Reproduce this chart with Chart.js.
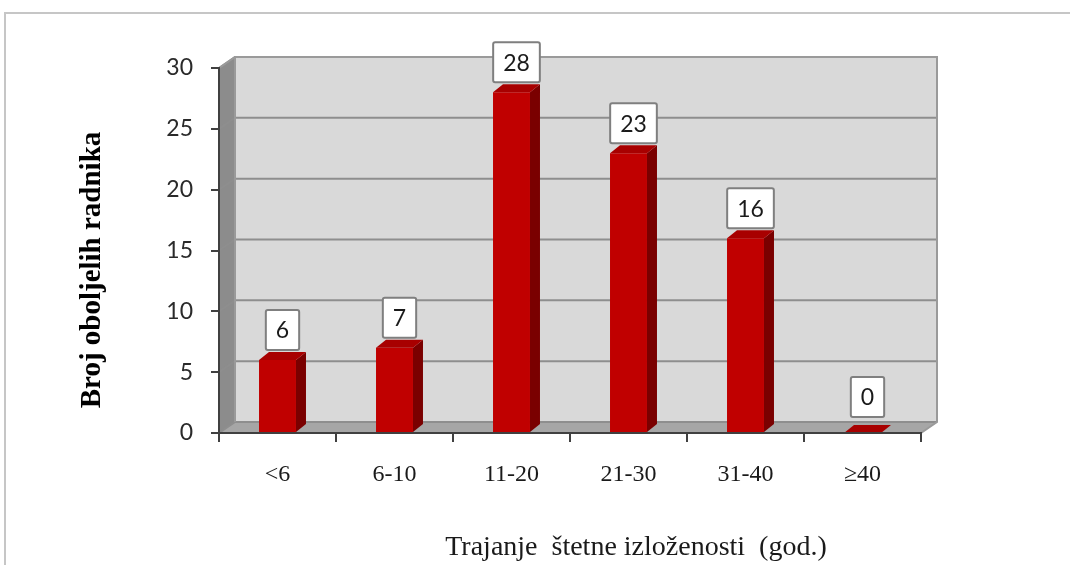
<!DOCTYPE html>
<html>
<head>
<meta charset="utf-8">
<script src="https://cdn.jsdelivr.net/npm/chart.js@4.4.0/dist/chart.umd.min.js"></script>
<style>
	html, body { margin: 0; padding: 0; background: #fff; }
	#wrap { position: relative; width: 1070px; height: 565px; overflow: hidden; }
	#wrap canvas { position: absolute; left: 0; top: 0; }
	/* okvir oko grafikona (Excel chart area) */
	#frame { position: absolute; left: 4px; top: 12px; width: 1100px; height: 600px; box-sizing: border-box;
		border-top: 2px solid #c6c6c6; border-left: 2px solid #c6c6c6; pointer-events: none; }
</style>
</head>
<body>
<div id="wrap">
	<canvas id="chart" width="1070" height="565"></canvas>
	<div id="frame"></div>
</div>
<script>
// podaci
const categories = ['<6', '6-10', '11-20', '21-30', '31-40', '\u226540'];
const workerCounts = [6, 7, 28, 23, 16, 0];
const yMin = 0;
const yMax = 30;
const yStep = 5;
const yTitle = 'Broj oboljelih radnika';
const xTitle = 'Trajanje  \u0161tetne izlo\u017eenosti  (god.)';

// 3D pomaci (zid i stupci)
const WALL_DX = 16, WALL_DY = -11;
const BAR_DX = 10, BAR_DY = -8;

const SANS = 'Lato, "Liberation Sans", sans-serif';
const SERIF = '"Liberation Serif", "Times New Roman", serif';

const threeD = {
	id: 'threeD',

	beforeDatasetsDraw: function(chart) {
		const ctx = chart.ctx;
		const a = chart.chartArea;
		const y = chart.scales.y;
		ctx.save();

		// lijevi zid
		ctx.fillStyle = '#8c8c8c';
		ctx.beginPath();
		ctx.moveTo(a.left, a.top);
		ctx.lineTo(a.left + WALL_DX, a.top + WALL_DY);
		ctx.lineTo(a.left + WALL_DX, a.bottom + WALL_DY);
		ctx.lineTo(a.left, a.bottom);
		ctx.closePath();
		ctx.fill();

		// zadnji zid
		ctx.fillStyle = '#d9d9d9';
		ctx.fillRect(a.left + WALL_DX, a.top + WALL_DY, a.right - a.left, a.bottom - a.top);

		// pod
		ctx.fillStyle = '#a6a6a6';
		ctx.beginPath();
		ctx.moveTo(a.left, a.bottom);
		ctx.lineTo(a.left + WALL_DX, a.bottom + WALL_DY);
		ctx.lineTo(a.right + WALL_DX, a.bottom + WALL_DY);
		ctx.lineTo(a.right, a.bottom);
		ctx.closePath();
		ctx.fill();

		// mreza
		ctx.strokeStyle = '#8e8e8e';
		ctx.lineWidth = 2;
		y.ticks.forEach(t => {
			const py = y.getPixelForValue(t.value);
			ctx.beginPath();
			ctx.moveTo(a.left, py);
			ctx.lineTo(a.left + WALL_DX, py + WALL_DY);
			ctx.lineTo(a.right + WALL_DX, py + WALL_DY);
			ctx.stroke();
		});

		// rubovi zida
		ctx.strokeStyle = '#9a9a9a';
		ctx.beginPath();
		ctx.moveTo(a.left + WALL_DX, a.bottom + WALL_DY);
		ctx.lineTo(a.left + WALL_DX, a.top + WALL_DY);
		ctx.lineTo(a.right + WALL_DX, a.top + WALL_DY);
		ctx.lineTo(a.right + WALL_DX, a.bottom + WALL_DY);
		ctx.lineTo(a.right, a.bottom);
		ctx.stroke();
		ctx.beginPath();
		ctx.moveTo(a.left, a.top);
		ctx.lineTo(a.left + WALL_DX, a.top + WALL_DY);
		ctx.stroke();

		ctx.restore();
	},

	afterDatasetsDraw: function(chart) {
		const ctx = chart.ctx;
		const meta = chart.getDatasetMeta(0);
		const values = chart.data.datasets[0].data;
		ctx.save();

		meta.data.forEach((bar, i) => {
			const x0 = bar.x - bar.width / 2;
			const x1 = bar.x + bar.width / 2;
			const top = bar.y;
			const base = bar.base;

			// bocna strana
			if (base - top > 0.5) {
				ctx.fillStyle = '#7a0000';
				ctx.beginPath();
				ctx.moveTo(x1, top);
				ctx.lineTo(x1 + BAR_DX, top + BAR_DY);
				ctx.lineTo(x1 + BAR_DX, base + BAR_DY);
				ctx.lineTo(x1, base);
				ctx.closePath();
				ctx.fill();
			}

			// gornja strana
			ctx.fillStyle = '#a80000';
			ctx.beginPath();
			ctx.moveTo(x0, top);
			ctx.lineTo(x0 + BAR_DX, top + BAR_DY);
			ctx.lineTo(x1 + BAR_DX, top + BAR_DY);
			ctx.lineTo(x1, top);
			ctx.closePath();
			ctx.fill();

			// oznaka vrijednosti
			const text = String(values[i]);
			ctx.font = '23px ' + SANS;
			const tw = ctx.measureText(text).width;
			const bw = tw + 20, bh = 40;
			const cx = bar.x + BAR_DX / 2;
			const lift = (base - top > 0.5) ? 2 : 8;
			const by = top + BAR_DY - lift - bh;
			ctx.fillStyle = '#ffffff';
			ctx.strokeStyle = '#7f7f7f';
			ctx.lineWidth = 2;
			ctx.beginPath();
			ctx.roundRect(cx - bw / 2, by, bw, bh, 2);
			ctx.fill();
			ctx.stroke();
			ctx.fillStyle = '#1a1a1a';
			ctx.textAlign = 'center';
			ctx.textBaseline = 'middle';
			ctx.fillText(text, cx, by + bh / 2 + 1);
		});

		ctx.restore();
	},

	afterDraw: function(chart) {
		const ctx = chart.ctx;
		ctx.save();
		ctx.fillStyle = '#000000';

		// naslov osi Y
		ctx.font = 'bold 29px ' + SERIF;
		ctx.translate(93, 270);
		ctx.rotate(-Math.PI / 2);
		ctx.textAlign = 'center';
		ctx.textBaseline = 'middle';
		ctx.fillText(yTitle, 0, 0);
		ctx.setTransform(1, 0, 0, 1, 0, 0);

		// naslov osi X
		ctx.font = '28px ' + SERIF;
		ctx.fillStyle = '#1a1a1a';
		ctx.textAlign = 'center';
		ctx.textBaseline = 'alphabetic';
		ctx.fillText(xTitle, 636, 555);

		ctx.restore();
	}
};

new Chart(document.getElementById('chart'), {
	type: 'bar',
	data: {
		labels: categories,
		datasets: [{
			data: workerCounts,
			backgroundColor: '#c00000',
			borderWidth: 0,
			categoryPercentage: 1,
			barPercentage: 0.316
		}]
	},
	options: {
		responsive: false,
		animation: false,
		devicePixelRatio: 1,
		layout: { padding: { left: 0, right: 149, top: 68, bottom: 0 } },
		plugins: {
			legend: { display: false },
			tooltip: { enabled: false },
			title: { display: false }
		},
		scales: {
			x: {
				afterFit: function(scale) { scale.height = 132; },
				grid: { drawOnChartArea: false, drawTicks: true, tickLength: 9, color: '#404040', lineWidth: 2 },
				border: { display: true, color: '#404040', width: 2, z: 1 },
				ticks: { color: '#1a1a1a', font: { family: SERIF, size: 24 }, padding: 18, maxRotation: 0 }
			},
			y: {
				min: yMin,
				max: yMax,
				afterFit: function(scale) { scale.width = 219; },
				grid: { drawOnChartArea: false, drawTicks: true, tickLength: 8, color: '#404040', lineWidth: 2 },
				border: { display: true, color: '#404040', width: 2, z: 1 },
				ticks: { stepSize: yStep, color: '#2a2a2a', font: { family: SANS, size: 23 }, padding: 18 }
			}
		}
	},
	plugins: [threeD]
});
</script>
</body>
</html>
